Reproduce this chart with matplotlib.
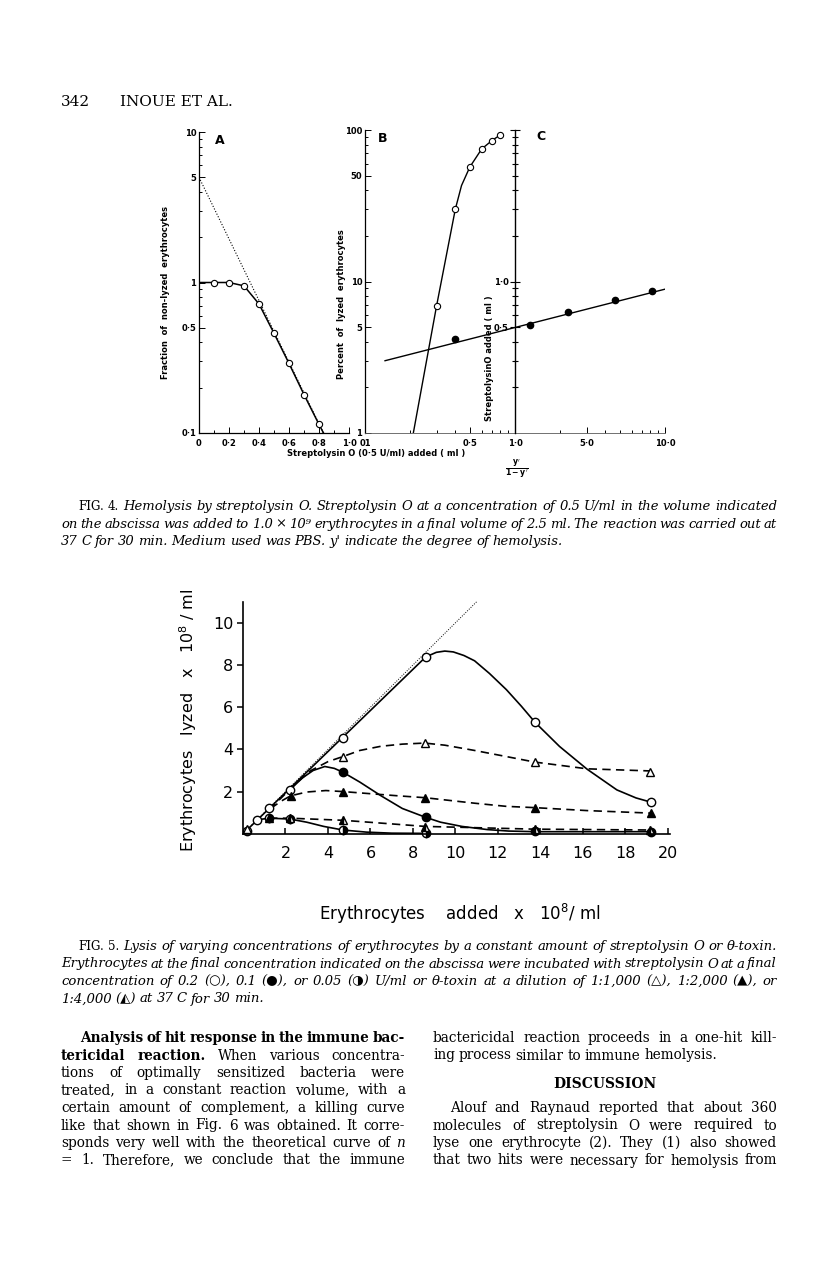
import matplotlib
matplotlib.use("Agg")
import matplotlib.pyplot as plt
from matplotlib.ticker import FixedLocator, NullFormatter

W, H = 816, 1261

# ---------- Fig. 4 A : fraction of non-lyzed erythrocytes (log)
a_ml = [0.1, 0.2, 0.3, 0.4, 0.5, 0.6, 0.7, 0.8]
a_frac = [1.0, 1.0, 0.95, 0.72, 0.46, 0.29, 0.18, 0.114]
a_curve_x = [0, 0.1, 0.2, 0.3, 0.4, 0.5, 0.6, 0.7, 0.8, 0.83]
a_curve_y = [1.0, 1.0, 1.0, 0.95, 0.72, 0.46, 0.29, 0.18, 0.114, 0.1]
a_extrap_x = [0, 0.83]
a_extrap_y = [5.0, 0.1]

# ---------- Fig. 4 B : percent lyzed (log-log)
b_ml = [0.3, 0.4, 0.5, 0.6, 0.7, 0.8]
b_pct = [6.9, 30, 57, 75, 85, 93]
b_curve_x = [0.21, 0.3, 0.4, 0.44, 0.5, 0.6, 0.7, 0.8]
b_curve_y = [1.0, 6.9, 30, 43, 57, 75, 85, 93]

# ---------- Fig. 4 C : streptolysin added vs y'/(1-y')
c_ratio = [0.40, 1.25, 2.26, 4.64, 8.25]
c_ml = [0.42, 0.52, 0.63, 0.75, 0.86]
c_fit_x = [0.136, 10]
c_fit_y = [0.30, 0.89]

# ---------- Fig. 5 : erythrocytes lyzed vs added (x 10^8 / ml)
so02_x = [0.2, 0.64, 1.23, 2.2, 4.7, 8.6, 13.75, 19.2]
so02_y = [0.15, 0.66, 1.21, 2.08, 4.55, 8.38, 5.28, 1.5]
so02_cx = [0, 8.6, 9.1, 9.5, 9.9, 10.4, 10.9, 11.6, 12.4, 13.1, 13.75, 14.9, 16.2, 17.6, 18.5, 19.2]
so02_cy = [0, 8.38, 8.6, 8.66, 8.62, 8.45, 8.2, 7.6, 6.83, 6.05, 5.28, 4.14, 3.06, 2.08, 1.7, 1.5]

so01_x = [4.7, 8.6, 13.75, 19.2]
so01_y = [2.92, 0.78, 0.12, 0.1]
so01_cx = [2.2, 2.8, 3.3, 3.85, 4.3, 4.7, 5.5, 6.5, 7.5, 8.6, 9.3, 10.3, 11.5, 12.5, 13.75, 19.2]
so01_cy = [2.08, 2.65, 3.0, 3.19, 3.1, 2.92, 2.45, 1.8, 1.2, 0.78, 0.55, 0.35, 0.2, 0.13, 0.1, 0.1]

so005_x = [1.23, 2.2, 4.7, 8.6]
so005_y = [0.74, 0.68, 0.18, 0.03]
so005_cx = [0.64, 1.23, 2.2, 3.0, 3.8, 4.7, 5.8, 7.0, 8.6]
so005_cy = [0.66, 0.74, 0.7, 0.55, 0.35, 0.18, 0.08, 0.03, 0.02]

th1000_x = [0.2, 4.7, 8.55, 13.73, 19.15]
th1000_y = [0.25, 3.66, 4.3, 3.38, 2.95]
th1000_cx = [1.23, 1.8, 2.5, 3.2, 4.0, 4.7, 5.5, 6.5, 7.5, 8.55, 9.5, 10.9, 12.4, 13.73, 16.2, 19.15]
th1000_cy = [1.15, 1.7, 2.4, 3.0, 3.42, 3.66, 3.95, 4.15, 4.25, 4.3, 4.2, 3.95, 3.66, 3.4, 3.08, 2.98]

th2000_x = [1.23, 2.24, 4.72, 8.58, 13.73, 19.2]
th2000_y = [0.74, 1.8, 2.0, 1.71, 1.24, 0.98]
th2000_cx = [1.3, 1.8, 2.24, 3.0, 3.9, 4.72, 6.0, 7.3, 8.58, 10.9, 12.4, 13.73, 16.2, 19.2]
th2000_cy = [1.2, 1.55, 1.8, 1.98, 2.05, 2.0, 1.9, 1.8, 1.71, 1.45, 1.3, 1.24, 1.1, 0.98]

th4000_x = [2.2, 4.72, 8.58, 13.73, 19.15]
th4000_y = [0.74, 0.64, 0.32, 0.22, 0.18]
th4000_cx = [1.23, 2.2, 4.72, 8.58, 13.73, 19.15]
th4000_cy = [0.74, 0.74, 0.64, 0.35, 0.22, 0.18]

ideal_x = [0, 11]
ideal_y = [0, 11]

plt.rcParams["mathtext.default"] = "regular"
fig = plt.figure(figsize=(W / 100, H / 100), dpi=100)
rend = fig.canvas.get_renderer()


def add_ax(l, t, r, b):
    return fig.add_axes([l / W, 1 - b / H, (r - l) / W, (b - t) / H])


def ftext(x, y, s, **kw):
    return fig.text(x / W, 1 - y / H, s, **kw)


def minor_log(decades):
    return [m * d for d in decades for m in range(2, 10)]


SANS = ["DejaVu Sans"]
tk = dict(fontsize=6, fontweight="bold", family=SANS)

# ---------------- panel A
axA = add_ax(199, 132, 349, 433)
axA.set_yscale("log")
axA.set_xlim(0, 1.0)
axA.set_ylim(0.1, 10)
axA.plot(a_extrap_x, a_extrap_y, color="k", lw=0.8, ls=(0, (1, 1.6)))
axA.plot(a_curve_x, a_curve_y, color="k", lw=1.1)
axA.plot(a_ml, a_frac, "o", ms=4.5, mfc="white", mec="k", mew=0.8)
axA.set_yticks([0.1, 0.5, 1, 5, 10])
axA.set_yticklabels(["0·1", "0·5", "1", "5", "10"], **tk)
axA.yaxis.set_minor_locator(FixedLocator([v for v in minor_log([0.1, 1]) if v not in (0.5, 5)]))
axA.yaxis.set_minor_formatter(NullFormatter())
axA.set_xticks([0, 0.2, 0.4, 0.6, 0.8, 1.0])
axA.set_xticklabels(["0", "0·2", "0·4", "0·6", "0·8", "1·0"], **tk)
axA.xaxis.set_minor_locator(FixedLocator([0.1, 0.3, 0.5, 0.7, 0.9]))
for s in ("top", "right"):
    axA.spines[s].set_visible(False)
for s in ("left", "bottom"):
    axA.spines[s].set_linewidth(0.9)
axA.tick_params(which="both", direction="in", width=0.7)
axA.tick_params(axis="y", pad=2)
axA.tick_params(axis="x", pad=4)
axA.tick_params(which="major", length=4)
axA.tick_params(which="minor", length=2)

# ---------------- panels B and C (shared log x axis)
axB = add_ax(365, 130, 665, 433)
axB.set_xscale("log")
axB.set_yscale("log")
axB.set_xlim(0.1, 10)
axB.set_ylim(1, 100)
axB.plot(b_curve_x, b_curve_y, color="k", lw=1.0)
axB.plot(b_ml, b_pct, "o", ms=4.5, mfc="white", mec="k", mew=0.8)
axB.set_yticks([1, 5, 10, 50, 100])
axB.set_yticklabels(["1", "5", "10", "50", "100"], **tk)
axB.yaxis.set_minor_locator(FixedLocator([v for v in minor_log([1, 10]) if v not in (5, 50)]))
axB.yaxis.set_minor_formatter(NullFormatter())
axB.set_xticks([0.1, 0.5, 1, 3, 10])
axB.set_xticklabels(["01", "0·5", "1·0", "5·0", "10·0"], **tk)
axB.xaxis.set_minor_locator(FixedLocator([v for v in minor_log([0.1, 1]) if v not in (0.5, 3)]))
axB.xaxis.set_minor_formatter(NullFormatter())
for s in ("top", "right"):
    axB.spines[s].set_visible(False)
axB.spines["left"].set_linewidth(0.9)
axB.spines["bottom"].set_linewidth(0.6)
axB.spines["bottom"].set_color("0.35")
axB.tick_params(which="both", direction="in", width=0.7)
axB.tick_params(axis="y", pad=2)
axB.tick_params(axis="x", pad=4)
axB.tick_params(which="major", length=4)
axB.tick_params(which="minor", length=2.5)

axC = axB.twinx()
axC.set_yscale("log")
axC.set_ylim(0.1, 10)
axC.plot(c_fit_x, c_fit_y, color="k", lw=1.0)
axC.plot(c_ratio, c_ml, "o", ms=4.5, color="k")
axC.yaxis.tick_left()
for s in ("top", "right", "bottom"):
    axC.spines[s].set_visible(False)
axC.spines["left"].set_visible(True)
axC.spines["left"].set_position(("data", 1.0))
axC.spines["left"].set_linewidth(1.0)
axC.set_yticks([0.5, 1, 10])
axC.set_yticklabels(["0·5", "1·0", ""], **tk)
axC.yaxis.set_minor_locator(FixedLocator([v for v in minor_log([0.1, 1]) if v not in (0.5,)]))
axC.yaxis.set_minor_formatter(NullFormatter())
axC.tick_params(which="both", direction="inout", width=0.8, pad=1)
axC.tick_params(which="major", length=7)
axC.tick_params(which="minor", length=5)

# Fig. 4 labels
ftext(220, 140, "A", fontsize=9, fontweight="bold", ha="center", va="center", family=SANS)
ftext(383, 138, "B", fontsize=9, fontweight="bold", ha="center", va="center", family=SANS)
ftext(541, 137, "C", fontsize=9, fontweight="bold", ha="center", va="center", family=SANS)
ftext(165, 292, "Fraction  of  non-lyzed  erythrocytes", rotation=90, ha="center", va="center", **tk)
ftext(342, 304, "Percent  of  lyzed  erythrocytes", rotation=90, ha="center", va="center", **tk)
ftext(490, 358, "StreptolysinO added ( ml )", rotation=90, ha="center", va="center", **tk)
ftext(376, 453, "Streptolysin O (0·5 U/ml) added ( ml )", ha="center", va="center", **tk)
ftext(517, 469, r"$\mathbf{\frac{y'}{1-y'}}$", ha="center", va="center", fontsize=8, family=SANS)

# ---------------- Fig. 5
ax5 = add_ax(243, 601.7, 670, 833.8)
ax5.set_xlim(0, 20.1)
ax5.set_ylim(0, 11)
ax5.plot(ideal_x, ideal_y, color="k", lw=0.7, ls=(0, (1, 1.5)), clip_on=False)
dash = (0, (5, 3.2))
ax5.plot(so02_cx, so02_cy, color="k", lw=1.2)
ax5.plot(so01_cx, so01_cy, color="k", lw=1.2)
ax5.plot(so005_cx, so005_cy, color="k", lw=1.2)
ax5.plot(th1000_cx, th1000_cy, color="k", lw=1.2, ls=dash)
ax5.plot(th2000_cx, th2000_cy, color="k", lw=1.2, ls=dash)
ax5.plot(th4000_cx, th4000_cy, color="k", lw=1.2, ls=dash)
mk = dict(ms=6, mec="k", mew=1.0, ls="none", clip_on=False)
ax5.plot(so02_x, so02_y, "o", mfc="white", **mk)
ax5.plot(so01_x, so01_y, "o", mfc="k", **mk)
ax5.plot(so005_x, so005_y, "o", mfc="k", fillstyle="right", markerfacecoloralt="white", **mk)
ax5.plot(th1000_x, th1000_y, "^", mfc="white", **mk)
ax5.plot(th2000_x, th2000_y, "^", mfc="k", **mk)
ax5.plot(th4000_x, th4000_y, "^", mfc="k", fillstyle="left", markerfacecoloralt="white", **mk)

big = dict(fontsize=11.5, family=SANS)
ax5.set_yticks([2, 4, 6, 8, 10])
ax5.set_yticklabels(["2", "4", "6", "8", "10"], **big)
ax5.set_xticks(list(range(2, 21, 2)))
ax5.set_xticklabels([str(v) for v in range(2, 21, 2)], **big)
for s in ("top", "right"):
    ax5.spines[s].set_visible(False)
for s in ("left", "bottom"):
    ax5.spines[s].set_linewidth(1.2)
ax5.tick_params(axis="y", direction="out", length=4, width=1.1, pad=3)
ax5.tick_params(axis="x", direction="in", length=4, width=1.1, pad=9)

ftext(188, 720, r"Erythrocytes   lyzed   x   $10^8$ / ml", rotation=90, ha="center", va="center", **big)
ftext(460, 914, r"Erythrocytes    added   x   $10^8$/ ml", ha="center", va="center", fontsize=12, family=SANS)

# ---------------- running head
SERIF = ["DejaVu Serif", "DejaVu Sans"]
ftext(61, 106, "342", fontsize=11, family=SERIF, va="baseline")
ftext(233, 106, "INOUE ET AL.", fontsize=11, family=SERIF, va="baseline", ha="right")


# ---------------- justified text blocks (one font size per block)
def block(specs, min_gap=3.0):
    def make(segs, scale):
        arts = []
        for s, kw in segs:
            for w in s.split():
                kw2 = dict(kw)
                kw2["fontsize"] = kw["fontsize"] * scale
                arts.append(fig.text(0, 0, w, va="baseline", **kw2))
        return arts

    scale = 1.0
    for x0, x1, y, segs, just in specs:
        arts = make(segs, 1.0)
        need = sum(a.get_window_extent(rend).width for a in arts) + min_gap * (len(arts) - 1)
        scale = min(scale, (x1 - x0) / need)
        for a in arts:
            a.remove()
    for x0, x1, y, segs, just in specs:
        arts = make(segs, scale)
        wid = [a.get_window_extent(rend).width for a in arts]
        gap = arts[0].get_fontsize() * 100 / 72 * 0.28
        if just and len(arts) > 1:
            gap = (x1 - x0 - sum(wid)) / (len(arts) - 1)
        x = x0
        for a, w in zip(arts, wid):
            a.set_position((x / W, 1 - y / H))
            x += w + gap


cap_i = dict(fontsize=10.0, family=SERIF, style="italic")
cap_r = dict(fontsize=9.0, family=SERIF)
C0, C1 = 61, 777

block([
    (78, C1, 510, [("FIG. 4.", cap_r),
                   ("Hemolysis by streptolysin O. Streptolysin O at a concentration of 0.5 U/ml in the volume indicated", cap_i)], True),
    (C0, C1, 527.5, [("on the abscissa was added to 1.0 × 10⁹ erythrocytes in a final volume of 2.5 ml. The reaction was carried out at", cap_i)], True),
    (C0, C1, 545, [("37 C for 30 min. Medium used was PBS. y' indicate the degree of hemolysis.", cap_i)], False),
])

block([
    (78, C1, 950, [("FIG. 5.", cap_r),
                   ("Lysis of varying concentrations of erythrocytes by a constant amount of streptolysin O or θ-toxin.", cap_i)], True),
    (C0, C1, 967.5, [("Erythrocytes at the final concentration indicated on the abscissa were incubated with streptolysin O at a final", cap_i)], True),
    (C0, C1, 985, [("concentration of 0.2 (○), 0.1 (●), or 0.05 (◑) U/ml or θ-toxin at a dilution of 1:1,000 (△), 1:2,000 (▲), or", cap_i)], True),
    (C0, C1, 1002.5, [("1:4,000 (◭) at 37 C for 30 min.", cap_i)], False),
])

body = dict(fontsize=10.0, family=SERIF)
body_b = dict(fontsize=10.0, family=SERIF, fontweight="bold")
body_i = dict(fontsize=10.0, family=SERIF, style="italic")

L0, L1 = 61, 405
R0, R1 = 433, 777
block([
    (80, L1, 1042, [("Analysis of hit response in the immune bac-", body_b)], True),
    (L0, L1, 1059.5, [("tericidal reaction.", body_b), ("When various concentra-", body)], True),
    (L0, L1, 1077, [("tions of optimally sensitized bacteria were", body)], True),
    (L0, L1, 1094.5, [("treated, in a constant reaction volume, with a", body)], True),
    (L0, L1, 1112, [("certain amount of complement, a killing curve", body)], True),
    (L0, L1, 1129.5, [("like that shown in Fig. 6 was obtained. It corre-", body)], True),
    (L0, L1, 1147, [("sponds very well with the theoretical curve of", body), ("n", body_i)], True),
    (L0, L1, 1164.5, [("= 1. Therefore, we conclude that the immune", body)], True),
    (R0, R1, 1042, [("bactericidal reaction proceeds in a one-hit kill-", body)], True),
    (R0, R1, 1059.5, [("ing process similar to immune hemolysis.", body)], False),
    (450, R1, 1112, [("Alouf and Raynaud reported that about 360", body)], True),
    (R0, R1, 1129.5, [("molecules of streptolysin O were required to", body)], True),
    (R0, R1, 1147, [("lyse one erythrocyte (2). They (1) also showed", body)], True),
    (R0, R1, 1164.5, [("that two hits were necessary for hemolysis from", body)], True),
])
ftext((R0 + R1) / 2, 1088, "DISCUSSION", ha="center", va="baseline", **body_b)

fig.savefig("out.png", dpi=100)
